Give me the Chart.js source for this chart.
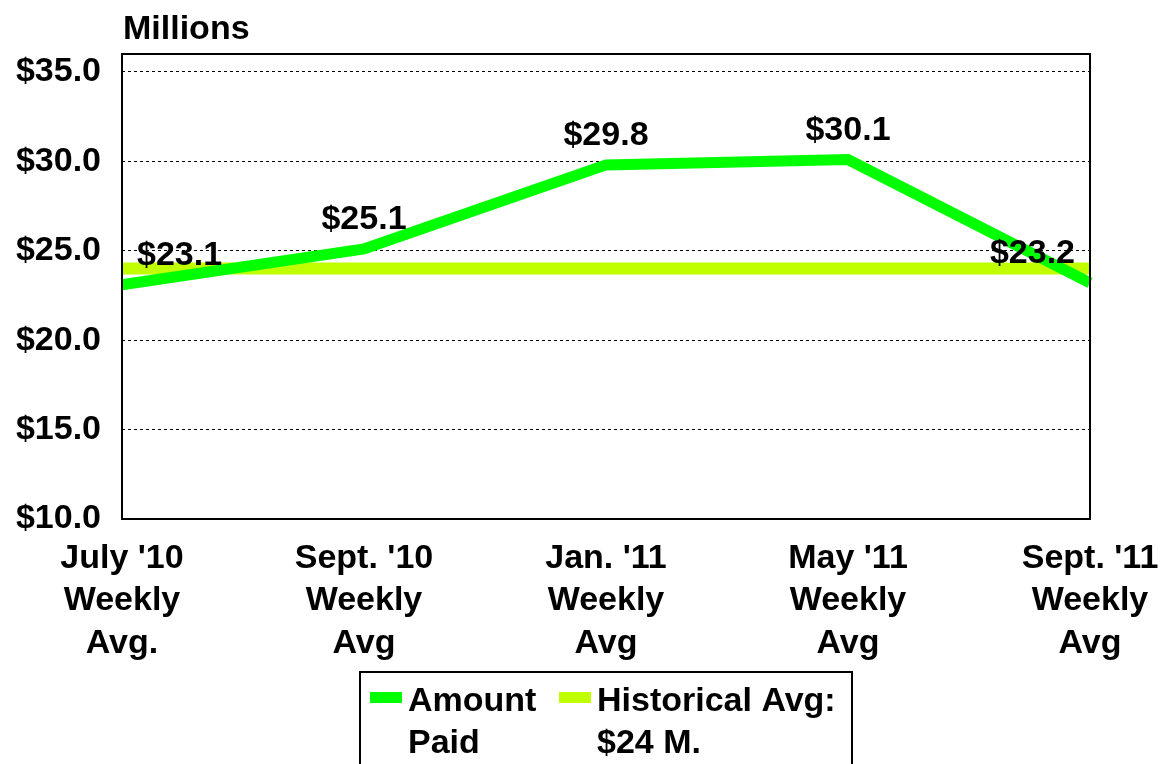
<!DOCTYPE html>
<html>
<head>
<meta charset="utf-8">
<script src="https://cdn.jsdelivr.net/npm/chart.js@4"></script>
<style>
  html, body { margin: 0; padding: 0; background: #fff; }
  #wrap { width: 1164px; height: 764px; }
</style>
</head>
<body>
<div id="wrap"><canvas id="claimsChart" width="1164" height="764"></canvas></div>
<script>
// data
const categories = [
    ["July '10", "Weekly", "Avg."],
    ["Sept. '10", "Weekly", "Avg"],
    ["Jan. '11", "Weekly", "Avg"],
    ["May '11", "Weekly", "Avg"],
    ["Sept. '11", "Weekly", "Avg"],
];
const amountPaid = [23.1, 25.1, 29.8, 30.1, 23.2];
const historicalAvg = [24, 24, 24, 24, 24];
const yTickValues = [10, 15, 20, 25, 30, 35];
const amountLabel = ["Amount", "Paid"];
const historicalLabel = ["Historical Avg:", "$24 M."];
const unitLabel = "Millions";

const FONT = "'Liberation Sans', Arial, sans-serif";
const boldFont = (size) => `bold ${size}px ${FONT}`;

// box round plot area, value labels, unit label and legend
const decorations = {
    id: "decorations",
    afterDatasetsDraw(chart) {
        const { ctx, chartArea } = chart;
        ctx.save();
        ctx.strokeStyle = "#000";
        ctx.lineWidth = 2;
        ctx.strokeRect(chartArea.left, chartArea.top, chartArea.right - chartArea.left, chartArea.bottom - chartArea.top);

        // value labels above the amount line
        ctx.font = boldFont(34);
        ctx.fillStyle = "#000";
        ctx.textAlign = "center";
        ctx.textBaseline = "middle";
        const meta = chart.getDatasetMeta(0);
        meta.data.forEach((pt, i) => {
            const txt = "$" + amountPaid[i].toFixed(1);
            const w = ctx.measureText(txt).width;
            let x = pt.x;
            x = Math.max(chartArea.left + 15 + w / 2, Math.min(chartArea.right - 15 - w / 2, x));
            ctx.fillText(txt, x, pt.y - 29);
        });
        ctx.restore();
    },
    afterDraw(chart) {
        const { ctx, chartArea } = chart;
        ctx.save();
        ctx.font = boldFont(34);
        ctx.fillStyle = "#000";
        ctx.textAlign = "left";
        ctx.textBaseline = "alphabetic";
        ctx.fillText(unitLabel, chartArea.left + 1, 39);

        // legend box
        ctx.strokeStyle = "#000";
        ctx.lineWidth = 2;
        ctx.strokeRect(360, 672, 492, 110);
        const items = chart.data.datasets.map((ds) => ({ lines: ds.legendLines, color: ds.borderColor }));
        const xs = [370, 559];
        items.forEach((it, i) => {
            ctx.fillStyle = it.color;
            ctx.fillRect(xs[i], 692, 32, 11);
            ctx.fillStyle = "#000";
            it.lines.forEach((line, j) => {
                ctx.fillText(line, xs[i] + 38, 711 + j * 42);
            });
        });
        ctx.restore();
    },
};

new Chart(document.getElementById("claimsChart"), {
    type: "line",
    data: {
        labels: categories,
        datasets: [
            {
                label: amountLabel.join(" "),
                legendLines: amountLabel,
                data: amountPaid,
                borderColor: "#00FF00",
                borderWidth: 11,
                pointRadius: 0,
                tension: 0,
                fill: false,
            },
            {
                label: historicalLabel.join(" "),
                legendLines: historicalLabel,
                data: historicalAvg,
                borderColor: "#BFFF00",
                borderWidth: 12,
                pointRadius: 0,
                tension: 0,
                fill: false,
            },
        ],
    },
    options: {
        responsive: false,
        animation: false,
        layout: { padding: { left: 0, right: 74, top: 54, bottom: 0 } },
        scales: {
            x: {
                offset: false,
                grid: { display: false, drawTicks: false },
                border: { display: false },
                ticks: {
                    color: "#000",
                    font: { family: FONT, size: 34, weight: "bold", lineHeight: 1.25 },
                    padding: 18,
                    maxRotation: 0,
                    autoSkip: false,
                },
                afterFit: (scale) => {
                    scale.height = 245;
                    scale.paddingLeft = 0;
                    scale.paddingRight = 0;
                },
            },
            y: {
                min: 10,
                max: 36,
                ticks: {
                    color: "#000",
                    font: { family: FONT, size: 34, weight: "bold" },
                    padding: 21,
                    callback: (v) => "$" + Number(v).toFixed(1),
                },
                afterBuildTicks: (scale) => {
                    scale.ticks = yTickValues.map((v) => ({ value: v }));
                },
                grid: {
                    color: "#000",
                    lineWidth: 1,
                    drawTicks: false,
                },
                border: { display: false, dash: [3, 3] },
                afterFit: (scale) => { scale.width = 122; },
            },
        },
        plugins: {
            legend: { display: false },
            tooltip: { enabled: false },
        },
    },
    plugins: [decorations],
});
</script>
</body>
</html>
